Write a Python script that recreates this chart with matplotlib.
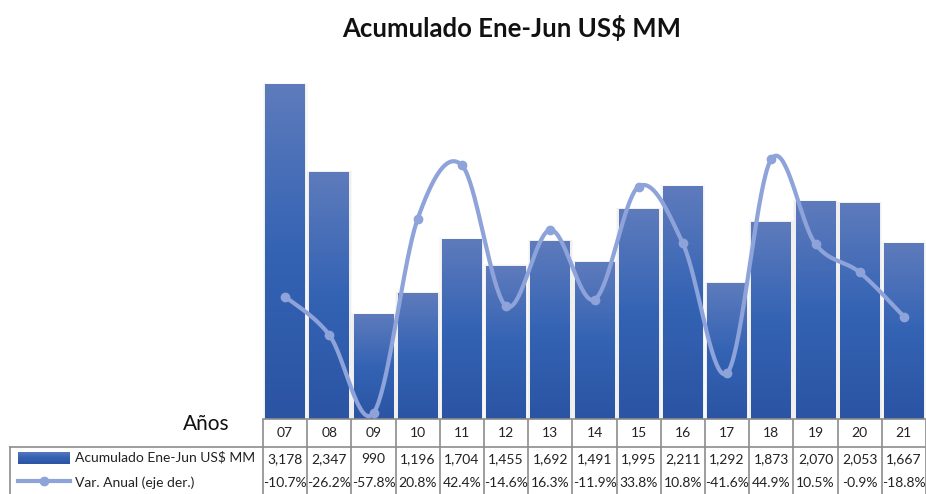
import numpy as np
import matplotlib
matplotlib.use("Agg")
import matplotlib.pyplot as plt
from matplotlib.lines import Line2D
from matplotlib.patches import Rectangle
from matplotlib.transforms import blended_transform_factory
from matplotlib.colors import LinearSegmentedColormap

# ---- data -------------------------------------------------------------
years = ["07", "08", "09", "10", "11", "12", "13", "14", "15", "16", "17", "18", "19", "20", "21"]
acumulado = [3178, 2347, 990, 1196, 1704, 1455, 1692, 1491, 1995, 2211, 1292, 1873, 2070, 2053, 1667]
var_anual = [-10.7, -26.2, -57.8, 20.8, 42.4, -14.6, 16.3, -11.9, 33.8, 10.8, -41.6, 44.9, 10.5, -0.9, -18.8]

title = "Acumulado Ene-Jun US$ MM"
series_bar = "Acumulado Ene-Jun US$ MM"
series_line = "Var. Anual (eje der.)"
axis_label = "Años"

# ---- style ------------------------------------------------------------
W, H = 926, 494
FONT = "Lato"
LINE_COLOR = "#8DA3DA"
GRID_COLOR = "#8c8c8c"
TXT = 10
bar_cmap = LinearSegmentedColormap.from_list(
    "barfill", [(0.0, "#5E7BBC"), (0.5, "#3463B4"), (1.0, "#2B54A3")])

plt.rcParams["font.family"] = [FONT, "DejaVu Sans"]

fig = plt.figure(figsize=(W / 100, H / 100), dpi=100)


def fy(p):
    """pixel row (from top) -> figure fraction"""
    return 1 - p / H


def fx(p):
    return p / W


ax = fig.add_axes([fx(263), fy(419), fx(663), 368 / H])
ax.set_xlim(-0.5, len(years) - 0.5)
ax.set_ylim(0, 3500)

# gradient-filled bars
bar_w = 0.9
grad = bar_cmap(np.linspace(0, 1, 256))[:, None, :3]
for i, v in enumerate(acumulado):
    # soft shadow behind each bar
    for k, a in [(0.06, 0.05), (0.03, 0.07)]:
        ax.add_patch(Rectangle((i - bar_w / 2 - k, 0), bar_w + 2 * k, v + k * 250,
                               facecolor="#7a7a7a", alpha=a, edgecolor="none", zorder=1))
    ax.imshow(grad, extent=[i - bar_w / 2, i + bar_w / 2, 0, v],
              aspect="auto", origin="upper", zorder=2, interpolation="bilinear")
ax.set_xlim(-0.5, len(years) - 0.5)
ax.set_ylim(0, 3500)

for s in ["top", "left", "right"]:
    ax.spines[s].set_visible(False)
ax.spines["bottom"].set_color(GRID_COLOR)
ax.spines["bottom"].set_linewidth(1.2)
ax.set_xticks([])
ax.set_yticks([])

# secondary axis: smoothed line
ax2 = ax.twinx()
ax2.set_ylim(-60.2, 88.6)
ax2.set_xlim(-0.5, len(years) - 0.5)
ax2.axis("off")

xs = np.arange(len(years), dtype=float)
ys = np.array(var_anual, dtype=float)
px, py = [], []
t = np.linspace(0, 1, 40)
for i in range(len(xs) - 1):
    p0 = np.array([xs[max(i - 1, 0)], ys[max(i - 1, 0)]])
    p1 = np.array([xs[i], ys[i]])
    p2 = np.array([xs[i + 1], ys[i + 1]])
    p3 = np.array([xs[min(i + 2, len(xs) - 1)], ys[min(i + 2, len(xs) - 1)]])
    c1 = p1 + (p2 - p0) / 6
    c2 = p2 - (p3 - p1) / 6
    b = ((1 - t) ** 3)[:, None] * p1 + (3 * (1 - t) ** 2 * t)[:, None] * c1 \
        + (3 * (1 - t) * t ** 2)[:, None] * c2 + (t ** 3)[:, None] * p2
    px.extend(b[:, 0])
    py.extend(b[:, 1])
ax2.plot(px, py, color=LINE_COLOR, lw=3.0, solid_capstyle="round", zorder=3)
ax2.plot(xs, ys, "o", color=LINE_COLOR, ms=6, zorder=4)

# title
fig.text(fx(512), fy(28), title, ha="center", va="center",
         fontsize=18.5, fontweight="bold", color="#111111")

# ---- data table -------------------------------------------------------
tr = blended_transform_factory(ax.transData, fig.transFigure)


def fline(x0, x1, y0, y1, transform):
    fig.add_artist(Line2D([x0, x1], [y0, y1], color=GRID_COLOR, lw=1.2,
                          transform=transform, clip_on=False))


for i in range(len(years) + 1):
    fline(i - 0.5, i - 0.5, fy(420), fy(494), tr)
fline(fx(10), fx(W), fy(447), fy(447), fig.transFigure)
fline(fx(10), fx(10), fy(447), fy(494), fig.transFigure)

for i, yr in enumerate(years):
    fig.text(i, fy(433), yr, transform=tr, ha="center", va="center",
             fontsize=TXT, color="#222222")
    fig.text(i, fy(459), f"{acumulado[i]:,}", transform=tr, ha="center",
             va="center", fontsize=TXT, color="#222222")
    fig.text(i, fy(483), f"{var_anual[i]:.1f}%", transform=tr, ha="center",
             va="center", fontsize=TXT, color="#222222")

fig.text(fx(206), fy(424), axis_label, ha="center", va="center",
         fontsize=15, color="#111111")

# legend keys inside the table
key = fig.add_axes([fx(18), fy(464), fx(52), 12 / H])
key.imshow(grad, extent=[0, 1, 0, 1], aspect="auto", origin="upper")
key.axis("off")
fig.add_artist(Line2D([fx(18), fx(70)], [fy(481), fy(481)], color=LINE_COLOR,
                      lw=3.0, transform=fig.transFigure))
fig.add_artist(Line2D([fx(44)], [fy(481)], marker="o", ms=6, color=LINE_COLOR,
                      transform=fig.transFigure))
fig.text(fx(75), fy(457), series_bar, ha="left", va="center", fontsize=TXT, color="#222222")
fig.text(fx(75), fy(483), series_line, ha="left", va="center", fontsize=TXT, color="#222222")

fig.savefig("out.png", dpi=100)
